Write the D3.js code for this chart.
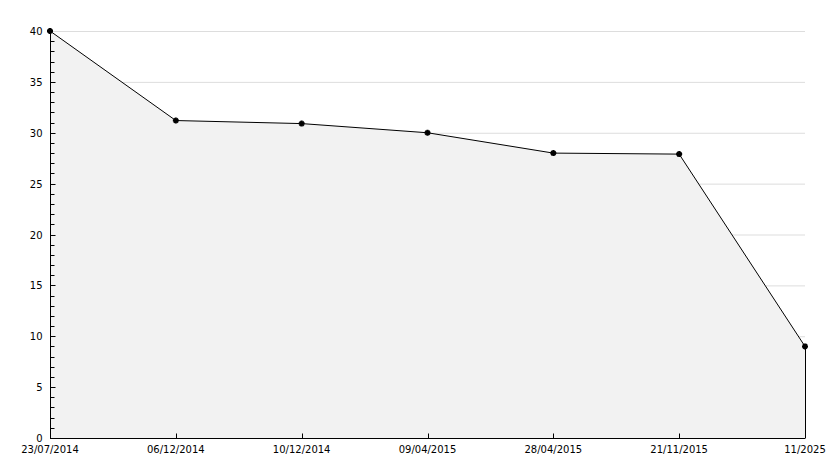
<!DOCTYPE html><html><head><meta charset="utf-8"><script src="https://cdn.jsdelivr.net/npm/d3@7"></script>
<style>body{margin:0;background:#fff}text{font-family:"DejaVu Sans",sans-serif;font-size:10px;fill:#000}</style></head><body>
<svg id="c" width="834" height="468"></svg>
<script>
const categories=["23/07/2014","06/12/2014","10/12/2014","09/04/2015","28/04/2015","21/11/2015","11/2025"];
const values=[40,31.2,30.9,30.0,28.0,27.9,9.0];
const yTicks=[0,5,10,15,20,25,30,35,40];
const svg=d3.select("#c");
const x=d3.scalePoint().domain(categories).range([50,805]);
const y=d3.scaleLinear().domain([0,40]).range([438,31]);
svg.append("g").selectAll("line").data(yTicks.filter(d=>d>0)).join("line")
 .attr("x1",50).attr("x2",805).attr("y1",d=>y(d)+.5).attr("y2",d=>y(d)+.5).attr("stroke","#dddddd");
const data=categories.map((c,i)=>({c,v:values[i]}));
svg.append("path").datum(data).attr("fill","#f2f2f2").attr("stroke","none")
 .attr("d",d3.area().x(d=>x(d.c)).y0(y(0)).y1(d=>y(d.v)));
svg.append("line").attr("x1",805.5).attr("x2",805.5).attr("y1",y(values[6])).attr("y2",y(0)).attr("stroke","#000");
svg.append("path").datum(data).attr("fill","none").attr("stroke","#000").attr("stroke-width",1)
 .attr("d",d3.line().x(d=>x(d.c)).y(d=>y(d.v)));
svg.append("g").selectAll("path").data(data).join("path")
 .attr("transform",d=>`translate(${x(d.c)},${y(d.v)})`).attr("d",d3.symbol(d3.symbolCross,20)).attr("fill","#000");
svg.append("g").selectAll("path").data(data).join("path")
 .attr("transform",d=>`translate(${x(d.c)},${y(d.v)}) rotate(45)`).attr("d",d3.symbol(d3.symbolCross,20)).attr("fill","#000");
// y axis
const ya=svg.append("g").attr("transform","translate(50.5,0)");
ya.append("line").attr("y1",y(40)).attr("y2",y(0)).attr("stroke","#000");
ya.selectAll(".mn").data(d3.range(1,40)).join("line").attr("x1",0).attr("x2",d=>d%5?4:5)
 .attr("y1",d=>Math.round(y(d))+.5).attr("y2",d=>Math.round(y(d))+.5).attr("stroke","#000");
ya.selectAll("text").data(yTicks).join("text").attr("x",-8).attr("y",d=>y(d)+4).attr("text-anchor","end").text(d=>d);
// x axis
const xa=svg.append("g").attr("transform","translate(0,438.5)");
xa.append("line").attr("x1",50).attr("x2",805).attr("stroke","#000");
xa.selectAll(".t").data(categories.slice(1)).join("line").attr("x1",d=>Math.round(x(d))+.5).attr("x2",d=>Math.round(x(d))+.5).attr("y1",0).attr("y2",-5).attr("stroke","#000");
xa.selectAll("text").data(categories).join("text").attr("x",d=>x(d)).attr("y",14).attr("text-anchor","middle").text(d=>d);
</script></body></html>
